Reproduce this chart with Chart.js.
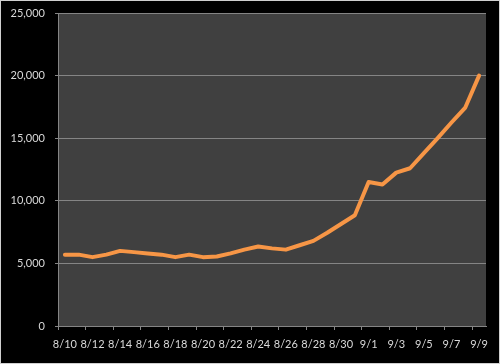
<!DOCTYPE html>
<html>
<head>
<meta charset="utf-8">
<script src="https://cdn.jsdelivr.net/npm/chart.js@4"></script>
<style>
  html, body { margin: 0; padding: 0; background: #000; }
  canvas { display: block; }
</style>
</head>
<body>
<canvas id="chart" width="500" height="364"></canvas>
<script>
const dates = [
    "8/10", "8/11", "8/12", "8/13", "8/14", "8/15", "8/16", "8/17", "8/18", "8/19",
    "8/20", "8/21", "8/22", "8/23", "8/24", "8/25", "8/26", "8/27", "8/28", "8/29",
    "8/30", "8/31", "9/1", "9/2", "9/3", "9/4", "9/5", "9/6", "9/7", "9/8", "9/9"
];
const values = [
    5700, 5700, 5500, 5700, 6000, 5900, 5800, 5700, 5500, 5700,
    5500, 5550, 5800, 6100, 6350, 6200, 6100, 6450, 6800, 7450,
    8150, 8850, 11500, 11300, 12250, 12600, 13800, 15000, 16250, 17450, 20000
];
const yTicks = [0, 5000, 10000, 15000, 20000, 25000];

const labelColor = "#d9d9d9";
const gridColor = "#858585";

// schwarzer Hintergrund + graue Plotfläche
const backdrop = {
    id: "backdrop",
    beforeDraw(chart) {
        const { ctx, chartArea: a, width, height } = chart;
        ctx.save();
        ctx.fillStyle = "#000";
        ctx.fillRect(0, 0, width, height);
        ctx.fillStyle = "#404040";
        ctx.fillRect(a.left, a.top, a.right - a.left, a.bottom - a.top);
        ctx.strokeStyle = "#d0d0d0";
        ctx.lineWidth = 1;
        ctx.strokeRect(0.5, 0.5, width - 1, height - 1);
        ctx.restore();
    }
};

new Chart(document.getElementById("chart").getContext("2d"), {
    type: "line",
    data: {
        labels: dates,
        datasets: [{
            data: values,
            borderColor: "#F79646",
            borderWidth: 4,
            pointRadius: 0,
            tension: 0,
            borderJoinStyle: "round",
            borderCapStyle: "round"
        }]
    },
    options: {
        responsive: false,
        animation: false,
        layout: { padding: { top: 13, right: 14, left: 0, bottom: 0 } },
        plugins: {
            legend: { display: false },
            tooltip: { enabled: false }
        },
        scales: {
            x: {
                offset: true,
                grid: {
                    offset: true,
                    drawOnChartArea: false,
                    drawTicks: true,
                    tickLength: 4,
                    color: (c) => c.index % 2 === 0 ? gridColor : "rgba(0,0,0,0)"
                },
                border: { display: true, color: gridColor, width: 1 },
                ticks: {
                    autoSkip: false,
                    maxRotation: 0,
                    padding: 8,
                    color: labelColor,
                    font: { family: "Lato", size: 11 },
                    callback: function (v, i) { return i % 2 === 0 ? dates[i] : ""; }
                },
                afterFit: (s) => { s.height = 38; s.paddingLeft = 0; s.paddingRight = 0; }
            },
            y: {
                min: 0,
                max: 25000,
                grid: {
                    color: gridColor,
                    drawTicks: true,
                    tickLength: 3
                },
                border: { display: true, color: gridColor, width: 1 },
                afterBuildTicks: (s) => { s.ticks = yTicks.map(v => ({ value: v })); },
                ticks: {
                    padding: 10,
                    color: labelColor,
                    font: { family: "Lato", size: 11 },
                    callback: (v) => v.toLocaleString("en-US")
                },
                afterFit: (s) => { s.width = 58; s.paddingTop = 0; s.paddingBottom = 0; }
            }
        }
    },
    plugins: [backdrop]
});
</script>
</body>
</html>
